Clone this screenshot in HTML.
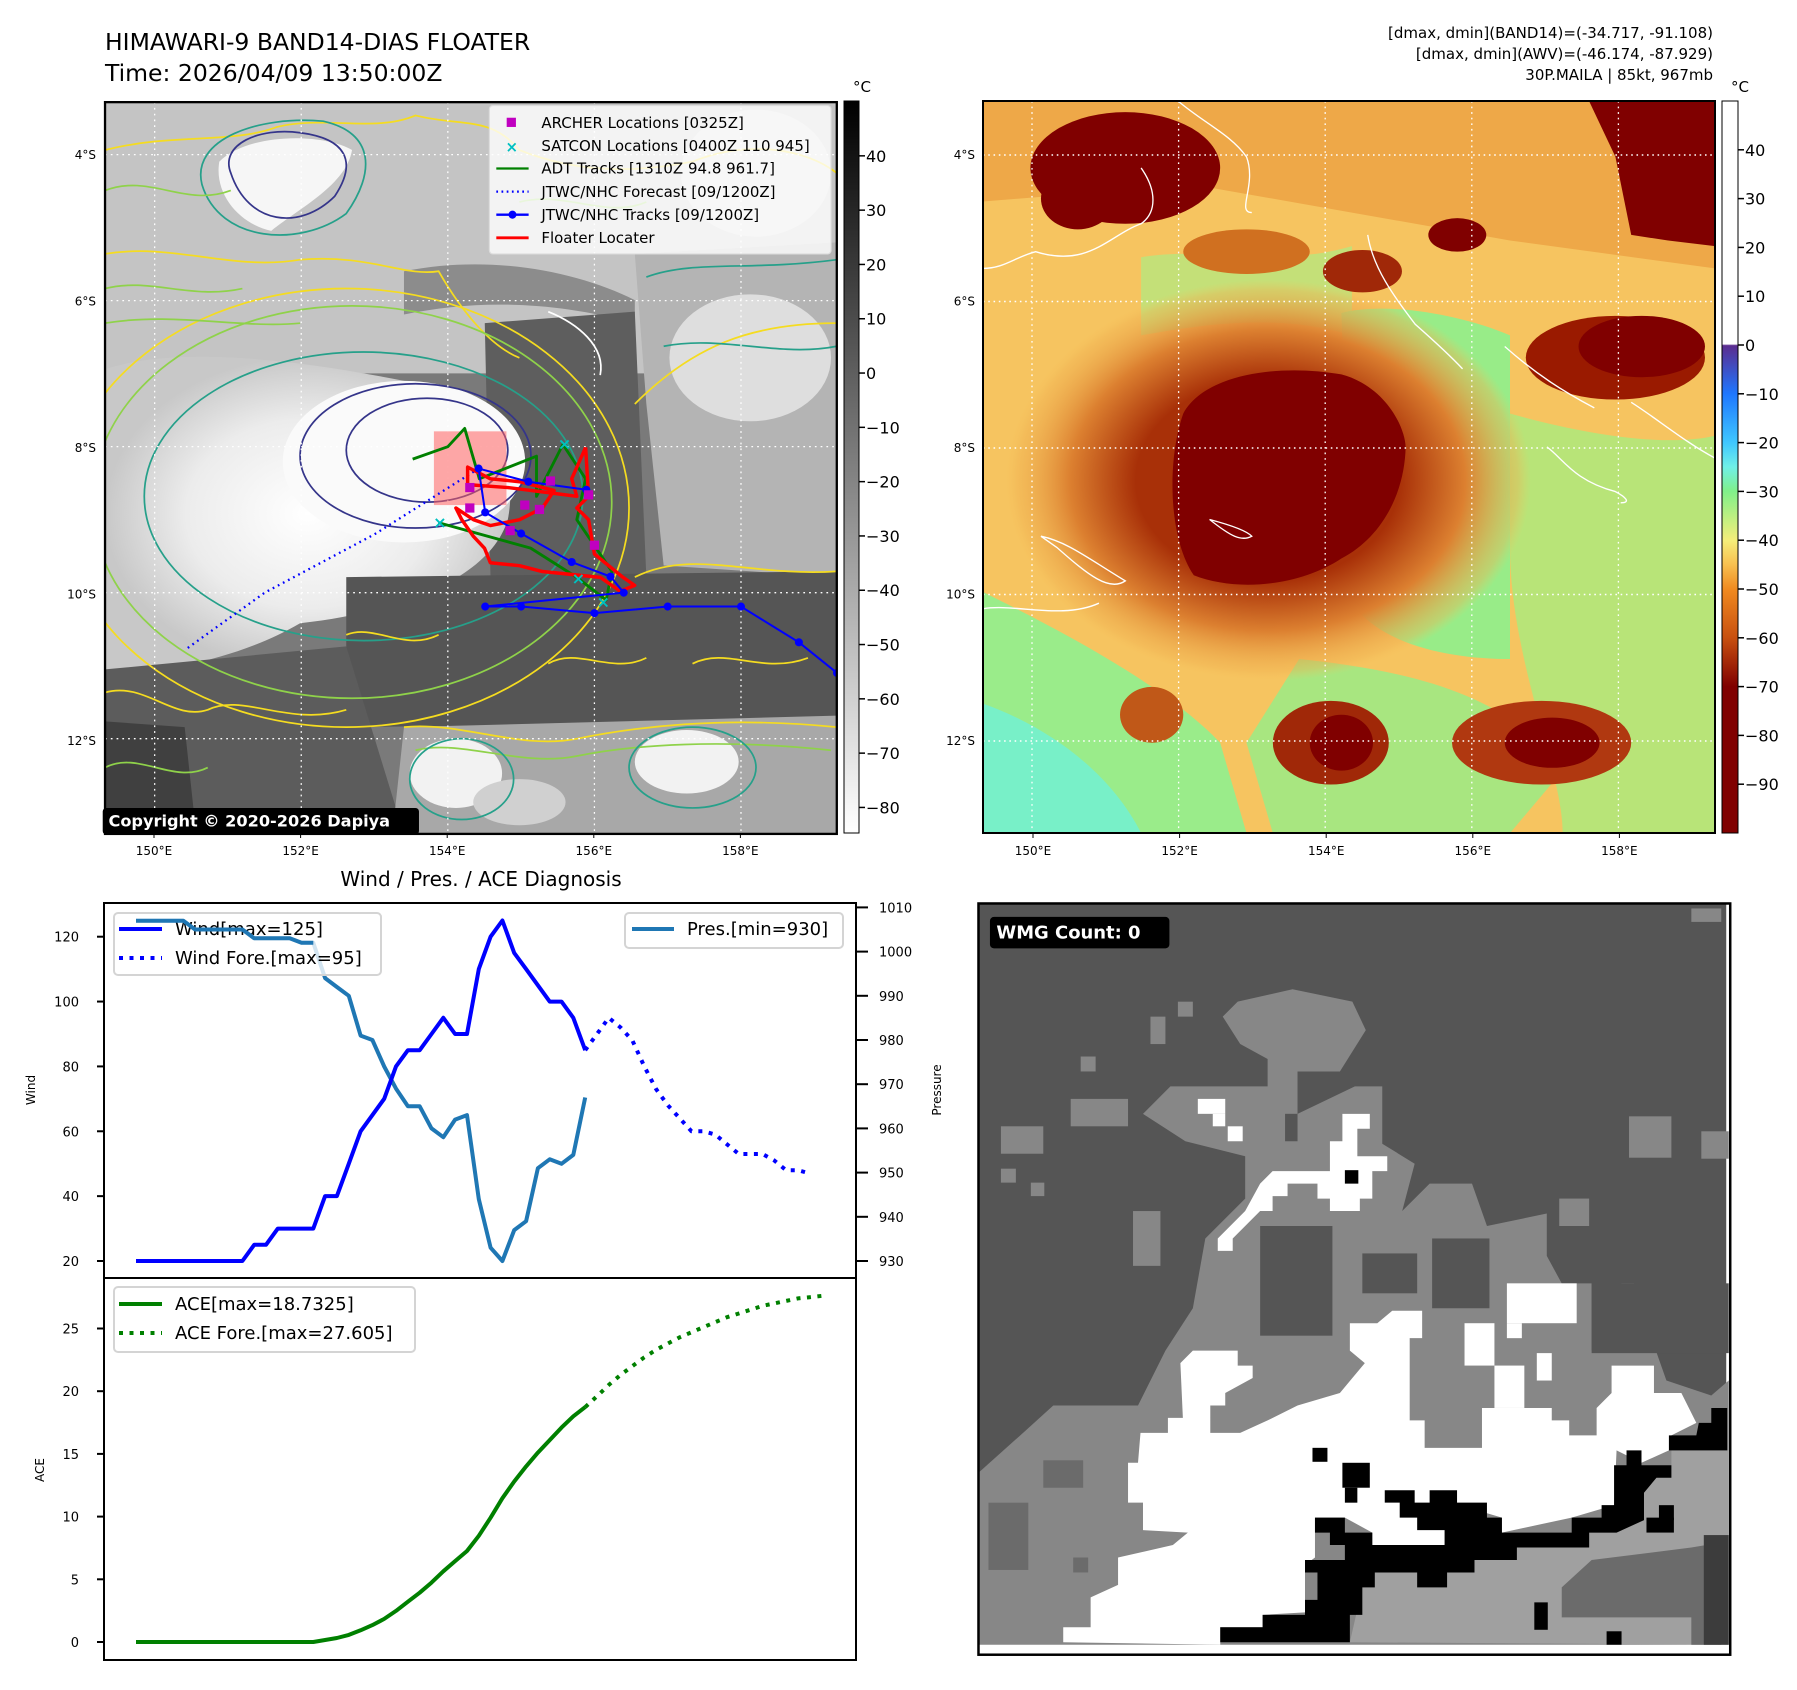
<!DOCTYPE html>
<html><head><meta charset="utf-8">
<style>
html,body{margin:0;padding:0;background:#fff;}
svg{display:block;font-family:"DejaVu Sans","Liberation Sans",sans-serif;}
</style></head>
<body>
<svg id="root" width="1797" height="1690" viewBox="0 0 1797 1690" xmlns="http://www.w3.org/2000/svg">
<defs>
  <clipPath id="clipL"><rect x="182" y="177" width="1268" height="1268"/></clipPath>
  <clipPath id="clipR"><rect x="0" y="0" width="1389" height="1312"/></clipPath>
  <linearGradient id="cbL" x1="0" y1="0" x2="0" y2="1">
    <stop offset="0" stop-color="#000"/><stop offset="1" stop-color="#fff"/>
  </linearGradient>
  <linearGradient id="cbR" x1="0" y1="0" x2="0" y2="1">
    <stop offset="0" stop-color="#fff"/><stop offset="0.332" stop-color="#fff"/>
    <stop offset="0.334" stop-color="#5b2c8f"/><stop offset="0.4" stop-color="#1f77ff"/>
    <stop offset="0.467" stop-color="#40c8ff"/><stop offset="0.5" stop-color="#70f0e8"/>
    <stop offset="0.533" stop-color="#80f08a"/><stop offset="0.6" stop-color="#f5ee7a"/>
    <stop offset="0.633" stop-color="#f8c050"/><stop offset="0.667" stop-color="#f08a20"/>
    <stop offset="0.733" stop-color="#c85010"/><stop offset="0.8" stop-color="#800000"/>
    <stop offset="1" stop-color="#800000"/>
  </linearGradient>
  <radialGradient id="swirl" cx="0.5" cy="0.5" r="0.5">
    <stop offset="0" stop-color="#ffffff"/><stop offset="0.6" stop-color="#ececec"/><stop offset="1" stop-color="#c8c8c8"/>
  </radialGradient>
  <radialGradient id="ring" cx="0.5" cy="0.5" r="0.5">
    <stop offset="0.5" stop-color="#a83008"/><stop offset="0.75" stop-color="#dc8030"/><stop offset="0.95" stop-color="#f0b050" stop-opacity="0.4"/><stop offset="1" stop-color="#f6c25a" stop-opacity="0"/>
  </radialGradient>
</defs>

<!-- ============ TITLES ============ -->
<text x="105" y="50" font-size="23.5">HIMAWARI-9 BAND14-DIAS FLOATER</text>
<text x="105" y="81" font-size="23.5">Time: 2026/04/09 13:50:00Z</text>
<g font-size="15" text-anchor="end">
  <text x="1713" y="38">[dmax, dmin](BAND14)=(-34.717, -91.108)</text>
  <text x="1713" y="59">[dmax, dmin](AWV)=(-46.174, -87.929)</text>
  <text x="1713" y="80">30P.MAILA | 85kt, 967mb</text>
</g>

<!-- ============ LEFT MAP (zoom coords scaled) ============ -->
<g transform="scale(0.5771)">
 <g clip-path="url(#clipL)">
  <rect x="182" y="177" width="1268" height="1268" fill="#7a7a7a"/>
  <rect x="182" y="177" width="1268" height="470" fill="#c4c4c4"/>
  <path d="M700,470 C850,440 1000,470 1100,520 L1100,560 C950,520 820,520 700,545Z" fill="#8c8c8c"/>
  <path d="M840,560 L1100,540 L1120,1000 L850,1000Z" fill="#5e5e5e"/>
  <path d="M1100,440 L1450,420 L1450,1000 L1150,980 L1120,700Z" fill="#b4b4b4"/>
  <ellipse cx="1300" cy="620" rx="140" ry="110" fill="#dedede"/>
  <ellipse cx="1310" cy="300" rx="130" ry="110" fill="#d8d8d8"/>
  <path d="M182,640 C300,600 500,620 700,660 C850,700 900,800 880,900 C850,1000 700,1060 520,1080 C400,1150 250,1170 182,1160Z" fill="url(#swirl)"/>
  <ellipse cx="700" cy="800" rx="210" ry="140" fill="#fafafa"/>
  <path d="M600,1000 L1450,990 L1450,1250 L600,1260Z" fill="#555"/>
  <path d="M182,1160 L600,1120 L700,1445 L182,1445Z" fill="#5c5c5c"/>
  <path d="M182,1250 L320,1260 L340,1445 L182,1445Z" fill="#404040"/>
  <path d="M700,1260 L1450,1240 L1450,1445 L680,1445Z" fill="#a8a8a8"/>
  <ellipse cx="790" cy="1340" rx="80" ry="60" fill="#f2f2f2"/>
  <ellipse cx="1190" cy="1320" rx="90" ry="55" fill="#f2f2f2"/>
  <ellipse cx="900" cy="1390" rx="80" ry="40" fill="#d0d0d0"/>
  <path d="M380,280 C430,230 560,230 610,260 C600,320 520,360 470,400 C420,390 370,340 380,280Z" fill="#f6f6f6"/>
  <!-- contours -->
  <g fill="none" stroke-width="3">
   <path d="M182,260 C300,230 400,250 480,220 C560,200 650,230 720,200 C800,220 850,200 900,260 C1000,300 1100,300 1200,280 C1300,240 1400,260 1450,300" stroke="#f5dc20"/>
   <path d="M182,440 C300,420 400,470 520,450 C640,440 700,480 760,470 C800,540 850,600 900,620" stroke="#f5dc20"/>
   <ellipse cx="600" cy="880" rx="490" ry="380" stroke="#f5dc20"/>
   <ellipse cx="610" cy="870" rx="450" ry="340" stroke="#8fd24a"/>
   <ellipse cx="630" cy="860" rx="380" ry="250" stroke="#26a08a"/>
   <ellipse cx="720" cy="790" rx="200" ry="125" stroke="#35358a"/>
   <ellipse cx="740" cy="780" rx="140" ry="90" stroke="#35358a"/>
   <path d="M400,300 C380,250 450,220 520,230 C600,240 620,280 580,340 C520,400 430,390 400,300Z" stroke="#35358a"/>
   <path d="M350,320 C330,240 450,200 560,210 C650,230 650,300 600,370 C520,430 380,420 350,320Z" stroke="#26a08a"/>
   <path d="M1100,700 C1200,600 1300,560 1450,560" stroke="#f5dc20"/>
   <path d="M1100,1000 C1200,950 1300,1000 1450,990" stroke="#f5dc20"/>
   <path d="M1150,600 C1250,580 1350,620 1450,600 M1120,480 C1200,450 1300,470 1450,450" stroke="#26a08a"/>
   <path d="M700,1260 C800,1250 900,1300 1000,1280 C1100,1260 1250,1240 1450,1260" stroke="#f5dc20"/>
   <path d="M720,1300 C800,1280 900,1330 1000,1310 C1100,1290 1250,1280 1440,1300" stroke="#8fd24a"/>
   <ellipse cx="800" cy="1350" rx="90" ry="70" stroke="#26a08a"/>
   <ellipse cx="1200" cy="1330" rx="110" ry="70" stroke="#26a08a"/>
   <path d="M182,1200 C250,1180 300,1250 360,1230 C420,1200 500,1260 600,1230" stroke="#f5dc20"/>
   <path d="M182,560 C300,540 420,570 520,560" stroke="#8fd24a"/>
   <path d="M950,540 C1000,560 1050,600 1040,650" stroke="#ffffff"/>
   <path d="M182,330 C260,300 320,360 400,330 M182,500 C260,480 330,520 420,500 M900,350 C980,330 1050,380 1120,350 M182,1330 C240,1300 300,1360 360,1330" stroke="#8fd24a"/>
   <path d="M600,1100 C650,1080 700,1130 760,1100 M950,1150 C1000,1120 1060,1170 1120,1140 M1200,1150 C1260,1120 1320,1170 1400,1140" stroke="#f5dc20"/>
  </g>
  <!-- grid -->
  <g id="gridL" stroke="#fff" stroke-width="2.2" stroke-dasharray="3,7"></g>
  <!-- tracks -->
  <g id="tracksL"></g>
 </g>
 <rect x="182" y="177" width="1268" height="1268" fill="none" stroke="#000" stroke-width="4"/>
 <!-- legend -->
 <g>
  <rect x="848" y="183" width="592" height="257" rx="6" fill="#fff" fill-opacity="0.8" stroke="#ddd" stroke-width="2"/>
  <g font-size="26">
   <rect x="878" y="204" width="16" height="16" fill="#c000c0"/>
   <text x="938" y="222">ARCHER Locations [0325Z]</text>
   <text x="876" y="263" font-size="26" fill="#00c0c0" font-weight="bold">×</text>
   <text x="938" y="262">SATCON Locations [0400Z 110 945]</text>
   <line x1="860" y1="292" x2="916" y2="292" stroke="#008000" stroke-width="4"/>
   <text x="938" y="301">ADT Tracks [1310Z 94.8 961.7]</text>
   <line x1="860" y1="332" x2="916" y2="332" stroke="#0000ff" stroke-width="4" stroke-dasharray="3,6"/>
   <text x="938" y="341">JTWC/NHC Forecast [09/1200Z]</text>
   <line x1="860" y1="372" x2="916" y2="372" stroke="#0000ff" stroke-width="4"/>
   <circle cx="888" cy="372" r="7" fill="#0000ff"/>
   <text x="938" y="381">JTWC/NHC Tracks [09/1200Z]</text>
   <line x1="860" y1="412" x2="916" y2="412" stroke="#ff0000" stroke-width="5"/>
   <text x="938" y="421">Floater Locater</text>
  </g>
 </g>
 <rect x="178" y="1400" width="548" height="46" rx="6" fill="#000"/>
 <text x="188" y="1432" font-size="28" font-weight="bold" fill="#fff">Copyright © 2020-2026 Dapiya</text>
</g>

<!-- left colorbar -->
<rect x="844" y="101" width="15" height="732" fill="url(#cbL)" stroke="#000" stroke-width="1"/>
<text x="853" y="92" font-size="15">°C</text>
<g id="cbLticks" font-size="16"></g>

<!-- ============ RIGHT MAP ============ -->
<g transform="translate(983,101) scale(0.527,0.558)">
 <g clip-path="url(#clipR)">
  <rect width="1389" height="1312" fill="#f6c460"/>
  <path d="M0,0 L1389,0 L1389,300 L1000,250 L700,200 L400,150 L0,180Z" fill="#eea848"/>
  <path d="M300,280 C420,260 560,300 700,260 L700,420 C560,380 420,400 300,420Z" fill="#c4e078"/>
  <path d="M0,880 C150,950 350,1050 450,1150 L500,1312 L0,1312Z" fill="#9aec8a"/>
  <path d="M0,1080 C120,1120 240,1200 300,1312 L0,1312Z" fill="#78f0c8"/>
  <path d="M680,380 C760,360 900,380 1000,420 L1000,1000 C900,1000 760,980 700,900Z" fill="#98ec88"/>
  <path d="M790,520 C830,560 860,680 850,800 C820,780 800,700 780,600Z" fill="#7ef2ea"/>
  <path d="M1000,560 C1150,600 1300,620 1389,600 L1389,1312 L1100,1312 C1100,1200 1000,1000 1000,800Z" fill="#b8e478"/>
  <path d="M600,1000 C800,1020 1000,1060 1100,1200 L1000,1312 L550,1312 L500,1150Z" fill="#a8e680"/>
  <ellipse cx="540" cy="680" rx="500" ry="360" fill="url(#ring)"/>
  <path d="M380,560 C420,490 560,470 680,490 C760,510 800,580 802,620 C800,700 760,780 680,820 C600,870 480,880 400,850 C350,780 350,640 380,560Z" fill="#800000"/>
  <ellipse cx="270" cy="120" rx="180" ry="100" fill="#800000"/>
  <ellipse cx="180" cy="175" rx="70" ry="55" fill="#800000"/>
  <path d="M1150,0 L1389,0 L1389,260 L1300,250 L1230,240 L1200,100Z" fill="#800000"/>
  <ellipse cx="1200" cy="460" rx="170" ry="75" fill="#9a1a00"/>
  <ellipse cx="1250" cy="440" rx="120" ry="55" fill="#800000"/>
  <ellipse cx="900" cy="240" rx="55" ry="30" fill="#800000"/>
  <ellipse cx="720" cy="305" rx="75" ry="38" fill="#a02808"/>
  <ellipse cx="500" cy="270" rx="120" ry="40" fill="#d07020"/>
  <ellipse cx="660" cy="1150" rx="110" ry="75" fill="#a02808"/>
  <ellipse cx="680" cy="1150" rx="60" ry="50" fill="#800000"/>
  <ellipse cx="1060" cy="1150" rx="170" ry="75" fill="#b03810"/>
  <ellipse cx="1080" cy="1150" rx="90" ry="45" fill="#800000"/>
  <ellipse cx="320" cy="1100" rx="60" ry="50" fill="#c05818"/>
  <g fill="none" stroke="#fff" stroke-width="2.5">
   <path d="M370,0 C420,40 470,60 500,100 C520,150 480,200 510,200"/>
   <path d="M300,120 C330,160 330,200 300,220 C240,240 200,300 100,270 C60,280 40,300 0,300"/>
   <path d="M730,240 C740,300 780,350 820,400 C880,450 900,470 910,480"/>
   <path d="M990,440 C1050,490 1100,520 1160,550"/>
   <path d="M1230,540 C1280,570 1330,610 1389,640"/>
   <path d="M430,750 C470,760 500,770 510,780 C490,790 470,780 430,750Z"/>
   <path d="M110,780 C160,790 200,820 270,860 C240,880 200,850 140,800Z"/>
   <path d="M0,910 C60,900 150,930 220,900"/>
   <path d="M1070,620 C1100,640 1120,680 1200,700 C1220,710 1230,720 1210,720"/>
  </g>
  <g id="gridR" stroke="#fff" stroke-width="2.5" stroke-dasharray="3,7"></g>
 </g>
</g>
<rect x="983" y="101" width="732" height="732" fill="none" stroke="#000" stroke-width="2"/>
<rect x="1722" y="101" width="16" height="732" fill="url(#cbR)" stroke="#000" stroke-width="1"/>
<text x="1731" y="92" font-size="15">°C</text>
<g id="cbRticks" font-size="16"></g>
<g id="mapTicks" font-size="12"></g>

<!-- ============ WMG PANEL ============ -->
<g transform="translate(973.5,894.5) scale(0.4985)">
 <rect x="10" y="18" width="1508" height="1507" fill="#fff"/>
 <rect x="10" y="18" width="1500" height="1480" fill="#555"/>
 <g fill="#878787">
  <path d="M10,1160 L105,1075 L160,1025 L330,1025 L385,915 L440,830 L465,690 L545,610 L545,525 L425,495 L340,440 L395,385 L590,385 L590,330 L535,300 L500,245 L530,215 L640,190 L760,215 L787,272 L735,355 L650,355 L650,440 L765,385 L820,385 L820,500 L885,540 L860,635 L915,580 L1000,580 L1030,665 L1150,640 L1150,725 L1180,780 L1240,780 L1240,915 L1360,890 L1390,975 L1480,1005 L1515,975 L1515,1505 L10,1505 Z"/>
  <rect x="195" y="410" width="115" height="55"/><rect x="55" y="465" width="85" height="55"/>
  <rect x="1315" y="445" width="85" height="83"/><rect x="1460" y="475" width="55" height="55"/>
  <rect x="320" y="635" width="55" height="110"/><rect x="215" y="325" width="30" height="30"/>
  <rect x="355" y="245" width="30" height="55"/><rect x="410" y="215" width="30" height="30"/>
  <rect x="55" y="550" width="30" height="28"/><rect x="115" y="578" width="27" height="27"/>
  <rect x="1175" y="610" width="60" height="55"/><rect x="1440" y="28" width="60" height="27"/>
  <rect x="1300" y="780" width="25" height="28"/><rect x="1415" y="808" width="30" height="27"/>
 </g>
 <g fill="#555">
  <rect x="575" y="665" width="145" height="220"/><rect x="780" y="720" width="110" height="80"/>
  <rect x="920" y="690" width="115" height="140"/><rect x="625" y="440" width="25" height="55"/>
  <rect x="1240" y="780" width="275" height="140"/>
 </g>
 <g fill="#a0a0a0">
  <path d="M755,1500 L780,1390 L805,1390 L805,1360 L890,1360 L890,1390 L950,1390 L950,1360 L1005,1360 L1005,1335 L1090,1335 L1090,1310 L1235,1310 L1235,1280 L1290,1280 L1345,1255 L1345,1200 L1370,1170 L1400,1145 L1400,1115 L1515,1115 L1515,1505 Z"/>
 </g>
 <g fill="#6b6b6b">
  <path d="M1180,1390 L1240,1335 L1440,1310 L1500,1300 L1500,1505 L1440,1505 L1440,1450 L1180,1450Z"/>
  <rect x="30" y="1220" width="80" height="135"/><rect x="140" y="1135" width="80" height="55"/>
  <rect x="200" y="1330" width="30" height="30"/>
 </g>
 <rect x="1465" y="1285" width="50" height="220" fill="#3c3c3c"/>
 <g fill="#fff">
  <path d="M415,940 L440,915 L530,915 L530,945 L560,945 L560,970 L505,1000 L505,1025 L475,1025 L475,1080 L535,1080 L590,1055 L650,1025 L735,1000 L760,970 L785,940 L755,915 L755,860 L810,860 L840,835 L900,835 L900,890 L875,890 L875,1055 L905,1055 L905,1110 L1020,1110 L1020,1030 L1160,1030 L1160,1055 L1195,1055 L1195,1085 L1250,1085 L1250,1030 L1280,1000 L1280,945 L1365,945 L1365,1000 L1420,1000 L1450,1060 L1400,1085 L1395,1115 L1340,1140 L1290,1115 L1285,1225 L1200,1250 L1060,1280 L1060,1250 L975,1225 L945,1305 L800,1305 L800,1280 L745,1250 L685,1250 L685,1330 L665,1345 L665,1440 L580,1445 L580,1470 L495,1470 L495,1505 L180,1500 L180,1470 L235,1470 L235,1410 L290,1385 L290,1330 L400,1305 L430,1280 L340,1275 L340,1220 L310,1220 L310,1140 L330,1140 L335,1080 L390,1080 L390,1050 L420,1050 Z"/>
  <path d="M740,440 L795,440 L795,470 L770,470 L770,525 L830,525 L830,555 L800,555 L800,610 L775,610 L775,635 L715,635 L715,610 L690,610 L690,580 L630,580 L630,605 L600,605 L600,635 L575,635 L550,660 L520,690 L520,715 L490,715 L490,690 L545,635 L575,580 L600,555 L715,555 L715,495 L740,495 Z"/>
  <rect x="985" y="860" width="60" height="85"/><rect x="1070" y="780" width="140" height="80"/>
  <rect x="1070" y="860" width="30" height="30"/><rect x="1130" y="920" width="30" height="55"/>
  <rect x="450" y="410" width="55" height="30"/><rect x="480" y="440" width="25" height="25"/>
  <rect x="510" y="465" width="30" height="30"/><rect x="1045" y="945" width="60" height="85"/>
 </g>
 <g fill="#000">
  <path d="M665,1335 L745,1335 L745,1305 L715,1305 L715,1280 L685,1280 L685,1250 L745,1250 L745,1280 L800,1280 L800,1305 L945,1305 L945,1275 L890,1275 L890,1250 L855,1250 L855,1220 L825,1220 L825,1195 L885,1195 L885,1220 L915,1220 L915,1195 L970,1195 L970,1220 L1030,1220 L1030,1250 L1060,1250 L1060,1280 L1200,1280 L1200,1250 L1260,1250 L1260,1225 L1285,1225 L1285,1145 L1310,1145 L1310,1115 L1340,1115 L1340,1145 L1400,1145 L1400,1170 L1370,1170 L1345,1200 L1345,1255 L1290,1280 L1235,1280 L1235,1310 L1090,1310 L1090,1335 L1005,1335 L1005,1360 L950,1360 L950,1390 L890,1390 L890,1360 L805,1360 L805,1390 L780,1390 L780,1445 L755,1445 L755,1500 L495,1500 L495,1470 L580,1470 L580,1445 L665,1445 L665,1415 L690,1415 L690,1360 L665,1360 Z"/>
  <path d="M1395,1085 L1450,1085 L1455,1060 L1480,1060 L1480,1030 L1512,1030 L1512,1115 L1395,1115Z"/>
  <rect x="740" y="1140" width="55" height="50"/><rect x="745" y="1190" width="25" height="30"/>
  <rect x="680" y="1110" width="30" height="28"/><rect x="745" y="553" width="27" height="27"/>
  <rect x="1125" y="1420" width="27" height="55"/><rect x="1270" y="1478" width="30" height="27"/>
  <rect x="1350" y="1250" width="55" height="30"/><rect x="1375" y="1225" width="30" height="30"/>
 </g>
 <rect x="10" y="18" width="1508" height="1507" fill="none" stroke="#000" stroke-width="5"/>
 <rect x="33" y="45" width="360" height="63" rx="8" fill="#000"/>
 <text x="46" y="88" font-size="36" font-weight="bold" fill="#fff">WMG Count: 0</text>
</g>

<!-- ============ DIAGNOSIS CHART ============ -->
<text x="481" y="886" font-size="20" text-anchor="middle">Wind / Pres. / ACE Diagnosis</text>
<g id="chart"></g>

<script>
// ---------- chart data ----------
const windObs = [20,20,20,20,20,20,20,20,20,20,25,25,30,30,30,30,40,40,50,60,65,70,80,85,85,90,95,90,90,110,120,125,115,110,105,100,100,95,85];
const presObs = [1007,1007,1007,1007,1007,1005,1005,1005,1005,1005,1003,1003,1003,1003,1002,1002,994,992,990,981,980,974,969,965,965,960,958,962,963,944,933,930,937,939,951,953,952,954,967];
const windFore = [85,90,95,92,88,80,73,68,64,60,60,59,56,53,53,53,51,48,48,47];
const aceObs = [0,0,0,0,0,0,0,0,0,0,0,0,0,0,0,0,0.16,0.32,0.57,0.93,1.35,1.84,2.48,3.21,3.93,4.74,5.64,6.45,7.26,8.47,9.91,11.47,12.8,14.0,15.1,16.1,17.1,18.0,18.73];
const aceFore = [18.73,19.6,20.5,21.3,22.0,22.7,23.3,23.8,24.3,24.7,25.1,25.5,25.9,26.2,26.5,26.8,27.0,27.2,27.4,27.5,27.6];
const windTicks = [20,40,60,80,100,120];
const presTicks = [930,940,950,960,970,980,990,1000,1010];
const aceTicks = [0,5,10,15,20,25];
const windLegend = ["Wind[max=125]","Wind Fore.[max=95]"];
const presLegend = ["Pres.[min=930]"];
const aceLegend = ["ACE[max=18.7325]","ACE Fore.[max=27.605]"];
// colorbar ticks
const cbLTicks = [40,30,20,10,0,-10,-20,-30,-40,-50,-60,-70,-80];
const cbRTicks = [40,30,20,10,0,-10,-20,-30,-40,-50,-60,-70,-80,-90];
const lonTicks = [150,152,154,156,158];
const latTicks = [-4,-6,-8,-10,-12];
// tracks (lon, lat)
const jtwcLon = [159.31,158.79,158.0,157.0,156.0,155.0,154.51,156.4,156.22,155.69,155.0,154.51,154.42,155.1,155.89];
const jtwcLat = [-11.10,-10.68,-10.19,-10.19,-10.28,-10.19,-10.19,-10.0,-9.78,-9.58,-9.19,-8.9,-8.30,-8.48,-8.59];
const foreLon = [154.42,153.0,151.5,150.42];
const foreLat = [-8.30,-9.2,-10.0,-10.78];
const floatLon = [155.88,155.92,155.76,155.92,156.0,156.39,156.55,156.35,156.08,155.29,154.98,154.58,154.5,154.35,154.19,154.11,154.35,154.58,154.98,155.29,155.45,154.98,154.58,154.27,154.27,154.82,155.45,155.76,155.69,155.88];
const floatLat = [-8.01,-8.68,-8.84,-9.0,-9.47,-9.79,-9.9,-9.98,-9.79,-9.71,-9.63,-9.59,-9.39,-9.23,-9.0,-8.84,-9.0,-9.08,-9.0,-8.84,-8.6,-8.48,-8.44,-8.28,-8.52,-8.56,-8.64,-8.68,-8.44,-8.01];
const adtLon = [153.52,154.0,154.23,154.43,155.21,155.21,155.57,155.88,155.76,156.24,156.16,155.76,155.13,153.87];
const adtLat = [-8.17,-8.0,-7.75,-8.44,-8.13,-8.68,-7.97,-8.44,-9.0,-9.71,-10.1,-9.79,-9.39,-9.04];
const archerLon = [154.3,155.4,155.05,155.25,154.3,155.92,156.0,154.85];
const archerLat = [-8.56,-8.47,-8.8,-8.86,-8.84,-8.66,-9.35,-9.15];
const satconLon = [155.57,153.87,156.1,155.76];
const satconLat = [-7.97,-9.04,-10.13,-9.81];

const NS = "http://www.w3.org/2000/svg";
function mk(tag, attrs, parent){const e=document.createElementNS(NS,tag);for(const k in attrs)e.setAttribute(k,attrs[k]);parent.appendChild(e);return e;}

// ---------- chart axes ----------
const xOf = i => 136 + 11.82*i;
const yW = v => 1261 - (v-20)*3.243;
const yP = p => 1261 - (p-930)*4.42;
const yA = a => 1642 - a*12.54;
const chart = document.getElementById('chart');
const frameTop = mk('rect',{x:104,y:903,width:752,height:375,fill:'none',stroke:'#000','stroke-width':2},chart);


const frameBot = mk('rect',{x:104,y:1278,width:752,height:382,fill:'none',stroke:'#000','stroke-width':2},chart);


windTicks.forEach(v=>{
  mk('line',{x1:97,x2:104,y1:yW(v),y2:yW(v),stroke:'#000','stroke-width':2},chart);
  const t=mk('text',{x:79,y:yW(v)+5,'font-size':13,'text-anchor':'end'},chart);t.textContent=v;
  
  
});
presTicks.forEach(v=>{
  mk('line',{x1:856,x2:868,y1:yP(v),y2:yP(v),stroke:'#000','stroke-width':2},chart);
  const t=mk('text',{x:879,y:yP(v)+5,'font-size':13},chart);t.textContent=v;
  
  
});
aceTicks.forEach(v=>{
  mk('line',{x1:97,x2:104,y1:yA(v),y2:yA(v),stroke:'#000','stroke-width':2},chart);
  const t=mk('text',{x:79,y:yA(v)+5,'font-size':13,'text-anchor':'end'},chart);t.textContent=v;
  
  
});
function ylab(txt,x,y,name){const t=mk('text',{x:x,y:y,'font-size':12,'text-anchor':'middle',transform:`rotate(-90 ${x} ${y})`},chart);t.textContent=txt;
  
  }
ylab('Wind',35,1090,'wind-axis-title');
ylab('Pressure',941,1090,'pressure-axis-title');
ylab('ACE',44,1470,'ace-axis-title');

function poly(xs, ys, color, dash, name){
  const p = xs.map((x,k)=>x.toFixed(1)+','+ys[k].toFixed(1)).join(' ');
  const a={points:p,fill:'none',stroke:color,'stroke-width':4,'stroke-linejoin':'round'};
  if(dash)a['stroke-dasharray']=dash;
  const el=mk('polyline',a,chart);
  
  
}
poly(presObs.map((v,i)=>xOf(i)), presObs.map(yP), '#1f77b4', null, 'pressure-line');
poly(windObs.map((v,i)=>xOf(i)), windObs.map(yW), '#0000ff', null, 'wind-line');
poly(windFore.map((v,i)=>xOf(i+windObs.length-1)), windFore.map(yW), '#0000ff', '4,6.5', 'wind-forecast-line');
poly(aceObs.map((v,i)=>xOf(i)), aceObs.map(yA), '#008000', null, 'ace-line');
poly(aceFore.map((v,i)=>xOf(i+aceObs.length-1)), aceFore.map(yA), '#008000', '4,6.5', 'ace-forecast-line');

// legends
function legendBox(x,y,w,h,name){const r=mk('rect',{x:x,y:y,width:w,height:h,rx:4,fill:'#fff','fill-opacity':0.8,stroke:'#d4d4d4','stroke-width':2},chart);
  
  }
function legendEntry(x1,x2,y,tx,txt,color,dash){
  const a={x1:x1,x2:x2,y1:y,y2:y,stroke:color,'stroke-width':4};if(dash)a['stroke-dasharray']=dash;
  mk('line',a,chart);
  const t=mk('text',{x:tx,y:y+6,'font-size':18},chart);t.textContent=txt;
  
  
}
legendBox(114,913,267,62,'wind-legend');
legendEntry(119,162,929,175,windLegend[0],'#0000ff');
legendEntry(119,162,958,175,windLegend[1],'#0000ff','4,6.5');
legendBox(625,913,218,35,'pressure-legend');
legendEntry(632,674,929,687,presLegend[0],'#1f77b4');
legendBox(114,1287,301,65,'ace-legend');
legendEntry(119,162,1304,175,aceLegend[0],'#008000');
legendEntry(119,162,1333,175,aceLegend[1],'#008000','4,6.5');
poly(presObs.slice(0,16).map((v,i)=>xOf(i)), presObs.slice(0,16).map(yP), '#1f77b4', null, 'pressure-line-overlay');

// ---------- colorbar ticks ----------
const cbl=document.getElementById('cbLticks');
cbLTicks.forEach(v=>{const y=101+(50.1-v)*5.43;
  mk('line',{x1:859,x2:865,y1:y,y2:y,stroke:'#000','stroke-width':1.5},cbl);
  const t=mk('text',{x:866,y:y+6},cbl);t.textContent=v<0?'\u2212'+(-v):v;
  
  });
const cbr=document.getElementById('cbRticks');
cbRTicks.forEach(v=>{const y=101+(50-v)*4.88;
  mk('line',{x1:1738,x2:1744,y1:y,y2:y,stroke:'#000','stroke-width':1.5},cbr);
  const t=mk('text',{x:1745,y:y+6},cbr);t.textContent=v<0?'\u2212'+(-v):v;
  
  });

// ---------- map ticks & grids ----------
const mt=document.getElementById('mapTicks');
const lonX = lon => 154 + (lon-150)*73.3;
const latY = lat => 155 + (-lat-4)*73.25;
lonTicks.forEach(l=>{
  [0,879].forEach(off=>{
    const t=mk('text',{x:lonX(l)+off,y:855,'text-anchor':'middle'},mt);t.textContent=l+'°E';
    
    
    mk('line',{x1:lonX(l)+off,x2:lonX(l)+off,y1:833,y2:838,stroke:'#000'},mt);
  });
});
latTicks.forEach(l=>{
  [0,879].forEach(off=>{
    const t=mk('text',{x:96+off,y:latY(l)+4,'text-anchor':'end'},mt);t.textContent=(-l)+'°S';
    
    
  });
});
const zx = lon => 776 + (lon-154)*127;
const zy = lat => 774 + (-lat-8)*126.5;
const gl=document.getElementById('gridL');
lonTicks.forEach(l=>mk('line',{x1:zx(l),x2:zx(l),y1:177,y2:1445},gl));
latTicks.forEach(l=>mk('line',{x1:182,x2:1450,y1:zy(l),y2:zy(l)},gl));
const rx = lon => (lonX(lon)-105)/0.527;
const ry = lat => (latY(lat)-101)/0.558;
const gr=document.getElementById('gridR');
lonTicks.forEach(l=>mk('line',{x1:rx(l),x2:rx(l),y1:0,y2:1312},gr));
latTicks.forEach(l=>mk('line',{x1:0,x2:1389,y1:ry(l),y2:ry(l)},gr));

// ---------- tracks ----------
const tl=document.getElementById('tracksL');
function tpath(lons,lats,color,w,dash,name){
  const a={points:lons.map((l,k)=>zx(l)+','+zy(lats[k])).join(' '),fill:'none',stroke:color,'stroke-width':w,'stroke-linejoin':'round'};
  if(dash)a['stroke-dasharray']=dash;
  const e=mk('polyline',a,tl);
  
  
}
const pink=mk('rect',{x:zx(153.81),y:zy(-7.79),width:zx(154.8)-zx(153.81),height:zy(-8.8)-zy(-7.79),fill:'#ff6060','fill-opacity':0.55},tl);


tpath(foreLon,foreLat,'#0000ff',4,'3,7','jtwc-forecast-track');
tpath(adtLon,adtLat,'#008000',5,null,'adt-track');
tpath(floatLon,floatLat,'#ff0000',6,null,'floater-track');
tpath(jtwcLon,jtwcLat,'#0000ff',3.5,null,'jtwc-track');
jtwcLon.forEach((l,k)=>{const c=mk('circle',{cx:zx(l),cy:zy(jtwcLat[k]),r:7,fill:'#0000ff'},tl);
  
  });
archerLon.forEach((l,k)=>{const r=mk('rect',{x:zx(l)-8,y:zy(archerLat[k])-8,width:16,height:16,fill:'#c000c0'},tl);
  
  });
satconLon.forEach((l,k)=>{const t=mk('text',{x:zx(l)-9,y:zy(satconLat[k])+9,'font-size':28,'font-weight':'bold',fill:'#00c0c0'},tl);t.textContent='×';
  
  });
</script>
</svg>
</body></html>
